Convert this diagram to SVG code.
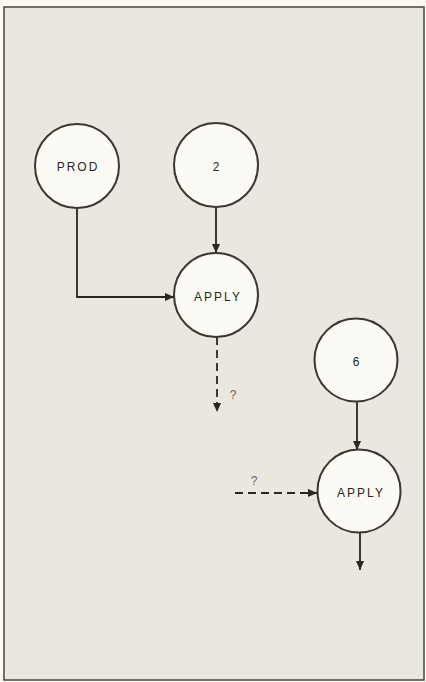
<svg xmlns="http://www.w3.org/2000/svg" width="426" height="682" viewBox="0 0 426 682">
<defs>
<style>
.node{fill:#fbfaf4;stroke:#3b3631;stroke-width:2}
.lbl{font-family:"Liberation Sans",Arial,sans-serif;font-size:12px;fill:#2a2622;text-anchor:middle;dominant-baseline:central;letter-spacing:2px}
.q{font-family:"Liberation Sans",Arial,sans-serif;font-size:12px;fill:#6a645c;text-anchor:middle}
.edge{fill:none;stroke:#2a2622;stroke-width:1.8}
.dash{stroke-dasharray:8 5}
</style>
<marker id="ah" viewBox="0 0 10 10" refX="10" refY="5" markerWidth="10" markerHeight="9" markerUnits="userSpaceOnUse" orient="auto">
<path d="M0,0.5 L10,5 L0,9.5 Z" fill="#2a2622"/>
</marker>
</defs>
<rect x="0" y="0" width="426" height="682" fill="#fbfaf0"/>
<rect x="4" y="7" width="420" height="673" fill="#ebe7de" stroke="#4a443d" stroke-width="1.5"/>
<g id="connectors">
<path class="edge" d="M77,208 V297 H174" marker-end="url(#ah)"/>
<path class="edge" d="M216,207 V253" marker-end="url(#ah)"/>
<path class="edge dash" d="M217,337 V412" marker-end="url(#ah)"/>
<path class="edge" d="M357,402 V450" marker-end="url(#ah)"/>
<path class="edge dash" d="M235,493 H317" marker-end="url(#ah)"/>
<path class="edge" d="M360,532 V570" marker-end="url(#ah)"/>
<text class="q" x="233" y="399">?</text>
<text class="q" x="254" y="485">?</text>
</g>
<g id="node-prod"><circle class="node" cx="77" cy="166" r="42"/><text class="lbl" x="78" y="167">PROD</text></g>
<g id="node-2"><circle class="node" cx="216" cy="165" r="42"/><text class="lbl" x="217" y="167">2</text></g>
<g id="node-apply1"><circle class="node" cx="216" cy="295" r="42"/><text class="lbl" x="218" y="297">APPLY</text></g>
<g id="node-6"><circle class="node" cx="356" cy="360" r="41.5"/><text class="lbl" x="357" y="362">6</text></g>
<g id="node-apply2"><circle class="node" cx="359" cy="491" r="41.5"/><text class="lbl" x="361" y="493">APPLY</text></g>
</svg>
